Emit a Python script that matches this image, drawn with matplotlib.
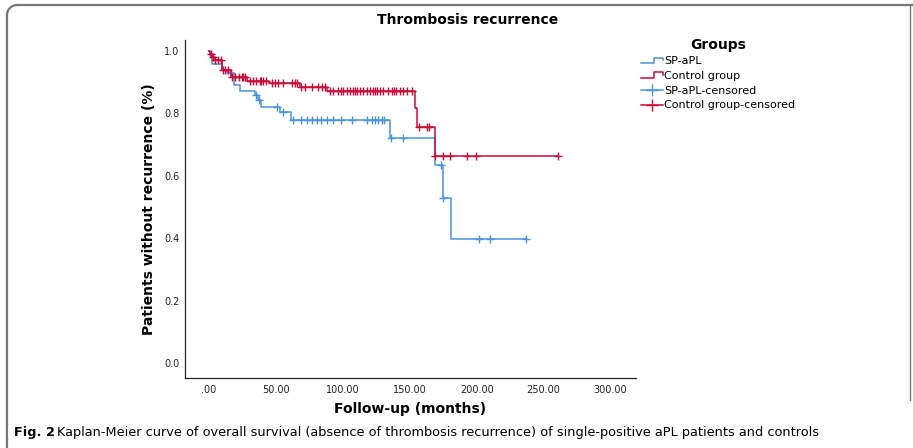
import numpy as np
import matplotlib.pyplot as plt
from matplotlib.lines import Line2D
from matplotlib.legend_handler import HandlerBase

# Courbes de Kaplan-Meier (temps en mois, survie)
sp_times = [0, 0.5, 2.2, 9.7, 13.4, 18.7, 23, 34, 36.5, 39, 53, 61, 135, 168.7, 174.6, 181]
sp_surv = [1.0, 0.985, 0.958, 0.939, 0.93, 0.89, 0.87, 0.858, 0.843, 0.82, 0.805, 0.78,
           0.72, 0.635, 0.53, 0.397]
sp_end = 237
sp_censored = [16, 35, 37, 50.5, 55, 62.5, 69, 73, 76.6, 80.4, 83.6, 87.8, 92.3, 98.5,
               106.5, 118, 121.4, 123.9, 126.4, 128.9, 130.6, 136, 145, 173.5, 175,
               202, 210, 237]

ctrl_times = [0, 1, 2.5, 4, 10, 16, 28, 45, 68, 88, 153.5, 155, 168.6]
ctrl_surv = [1.0, 0.99, 0.98, 0.97, 0.94, 0.917, 0.905, 0.897, 0.885, 0.872, 0.817,
             0.757, 0.663]
ctrl_end = 260.5
ctrl_censored = [1.3, 3, 4.5, 6.7, 9, 10.4, 12, 14, 17, 19.4, 22, 24.4, 25.6, 27, 30.6,
                 33, 35, 38, 39, 40.5, 42.5, 47, 49, 51.5, 55, 62, 64.5, 66, 69, 71.6,
                 76.6, 81.6, 84, 86.6, 90, 92.5, 96, 98.5, 100, 103, 105.2, 107.5, 109,
                 110.4, 112.7, 115, 118, 120, 122.5, 124, 125.4, 127.6, 130, 133.6,
                 136.6, 138, 140, 142.5, 144.8, 147.8, 151.5, 157, 162.5, 164, 169,
                 175, 180, 193, 199.6, 260.5]

x_ticks = [0, 50, 100, 150, 200, 250, 300]
x_labels = ['.00', '50.00', '100.00', '150.00', '200.00', '250.00', '300.00']
y_ticks = [0.0, 0.2, 0.4, 0.6, 0.8, 1.0]

BLUE = '#4a94de'
RED = '#cc0a3a'


def survie_a(times, surv, t):
    # valeur de la fonction en escalier au temps t
    idx = np.searchsorted(times, t, side='right') - 1
    return np.array(surv)[idx]


class HandlerEscalier(HandlerBase):
    def create_artists(self, legend, orig_handle, xdescent, ydescent, width, height,
                       fontsize, trans):
        xs = np.array([0, 0.6, 0.6, 1.0, 1.0]) * width - xdescent
        ys = np.array([0.2, 0.2, 0.85, 0.85, 0.55]) * height - ydescent
        ln = Line2D(xs, ys, color=orig_handle.get_color(), lw=1.1)
        ln.set_transform(trans)
        return [ln]


fig = plt.figure(figsize=(9.13, 4.48), dpi=100)
ax = fig.add_axes([185 / 913, 70 / 448, (636 - 185) / 913, (408 - 70) / 448])

for times, surv, end, cens, col in [(sp_times, sp_surv, sp_end, sp_censored, BLUE),
                                    (ctrl_times, ctrl_surv, ctrl_end, ctrl_censored, RED)]:
    tx = list(times) + [end]
    sy = list(surv) + [surv[-1]]
    ax.step(tx, sy, where='post', color=col, lw=1.1)
    ax.plot(cens, survie_a(times, surv, cens), ls='none', marker='+', ms=6, mew=1.0,
            color=col)

ax.set_xlim(-18, 319)
ax.set_ylim(-0.048, 1.035)
ax.set_xticks(x_ticks)
ax.set_xticklabels(x_labels)
ax.set_yticks(y_ticks)
ax.set_yticklabels(['%.1f' % v for v in y_ticks])
ax.tick_params(length=0, labelsize=7, colors='#222222', pad=5)
ax.tick_params(axis='y', pad=4)
for s in ['top', 'right']:
    ax.spines[s].set_visible(False)
for s in ['left', 'bottom']:
    ax.spines[s].set_color('#222222')
    ax.spines[s].set_linewidth(0.9)

ax.set_xlabel('Follow-up (months)', fontsize=10, fontweight='bold', labelpad=5)
ax.set_ylabel('Patients without recurrence (%)', fontsize=10, fontweight='bold', labelpad=6)
fig.text(468 / 913, 1 - 20 / 448, 'Thrombosis recurrence', ha='center', va='center',
         fontsize=10, fontweight='bold')

h_sp = Line2D([], [], color=BLUE)
h_ctrl = Line2D([], [], color=RED)
h_sp_c = Line2D([], [], color=BLUE, marker='+', ms=8, lw=1.1)
h_ctrl_c = Line2D([], [], color=RED, marker='+', ms=8, lw=1.1)
leg = fig.legend([h_sp, h_ctrl, h_sp_c, h_ctrl_c],
                 ['SP-aPL', 'Control group', 'SP-aPL-censored', 'Control group-censored'],
                 handler_map={h_sp: HandlerEscalier(), h_ctrl: HandlerEscalier()},
                 loc='upper left', bbox_to_anchor=(633 / 913, 1 - 30 / 448),
                 frameon=False, fontsize=8, title='Groups', numpoints=1,
                 handlelength=2.0, handletextpad=0.1, labelspacing=0.42, borderpad=0.2)
leg.get_title().set_fontweight('bold')
leg.get_title().set_fontsize(10)

# légende de la figure
fig.text(14 / 913, 1 - 432 / 448, 'Fig. 2', fontsize=9.3, fontweight='bold', va='center')
fig.text(57 / 913, 1 - 432 / 448,
         'Kaplan-Meier curve of overall survival (absence of thrombosis recurrence) '
         'of single-positive aPL patients and controls', fontsize=9.3, va='center')

# cadre gris à coin arrondi
r = 10
fig.add_artist(Line2D([7 / 913, 7 / 913], [0, 1 - (5 + r) / 448], color='#777777', lw=1.6))
ang = np.linspace(np.pi, np.pi / 2, 20)
fig.add_artist(Line2D((7 + r + r * np.cos(ang)) / 913, 1 - (5 + r - r * np.sin(ang)) / 448,
                      color='#777777', lw=1.6))
fig.add_artist(Line2D([(7 + r) / 913, 1], [1 - 5 / 448, 1 - 5 / 448], color='#777777', lw=1.6))
fig.add_artist(Line2D([910 / 913, 910 / 913], [1 - 5 / 448, 1 - 400 / 448], color='#777777',
                      lw=1.0))

fig.savefig('out.png', dpi=100)
